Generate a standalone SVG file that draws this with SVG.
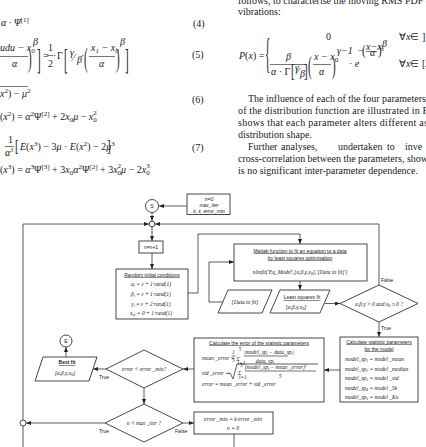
<svg xmlns="http://www.w3.org/2000/svg" width="426" height="447" viewBox="0 0 426 447">
<style>
.t{font-family:"Liberation Serif","Times New Roman",serif;font-size:10px;fill:#1a1a1a}
.i{font-style:italic}
.b{font-family:"Liberation Serif","Times New Roman",serif;fill:#1a1a1a;font-size:11px}
.s{font-family:"Liberation Sans",Arial,sans-serif;font-size:5px;fill:#1a1a1a}
.u{text-decoration:underline}
.m{font-family:"Liberation Serif","Times New Roman",serif;font-style:italic;font-size:5.5px;fill:#1a1a1a}
.c{text-anchor:middle}
.box{fill:#fff;stroke:#333;stroke-width:0.9}
.ln{fill:none;stroke:#333;stroke-width:0.8}
.ar{fill:none;stroke:#333;stroke-width:0.8;marker-end:url(#ah)}
.bar{stroke:#1a1a1a;stroke-width:0.6}
</style>
<defs>
<marker id="ah" markerWidth="5" markerHeight="4" refX="5" refY="2" orient="auto" markerUnits="userSpaceOnUse"><path d="M0,0L5,2L0,4z" fill="#222"/></marker>
</defs>

<g id="equations-left">
<text class="t i" x="1" y="26">α · Ψ<tspan font-size="7" dy="-4" font-style="normal">[1]</tspan></text>
<text class="t" x="193" y="27">(4)</text>

<text class="t i" x="0" y="51">udu − x<tspan font-size="7" dy="2">0</tspan></text>
<line class="bar" x1="0" y1="56.5" x2="28" y2="56.5"/>
<text class="t i" x="12" y="67">α</text>
<text class="b" transform="translate(28,67) scale(1,2.5)">)</text>
<text class="t i" x="33" y="45" font-size="7">β</text>
<text class="b" transform="translate(37,69) scale(1,2.6)">]</text>
<text class="t" x="43" y="59">=</text>
<text class="t" x="48" y="51" font-size="9">1</text>
<line class="bar" x1="47" y1="55.5" x2="53" y2="55.5"/>
<text class="t" x="48" y="67" font-size="9">2</text>
<text class="t" x="53" y="59">·</text>
<text class="t" x="57" y="59">Γ</text>
<text class="b" transform="translate(64,69) scale(1,2.7)">[</text>
<text class="t i" x="70" y="56" font-size="7">γ</text>
<text class="t" x="73" y="61" font-size="10">⁄</text>
<text class="t i" x="77" y="63" font-size="7">β</text>
<text class="t" x="81" y="59">·</text>
<text class="b" transform="translate(84,67) scale(1,2.5)">(</text>
<text class="t i" x="91" y="51">x<tspan font-size="7" dy="2">1</tspan><tspan dy="-2"> − x</tspan><tspan font-size="7" dy="2">0</tspan></text>
<line class="bar" x1="89" y1="56.5" x2="115" y2="56.5"/>
<text class="t i" x="99" y="67">α</text>
<text class="b" transform="translate(116,67) scale(1,2.5)">)</text>
<text class="t i" x="120" y="45" font-size="7">β</text>
<text class="b" transform="translate(125,69) scale(1,2.6)">]</text>
<text class="t" x="192" y="58">(5)</text>

<line class="bar" x1="0" y1="86.5" x2="28" y2="86.5"/>
<text class="t i" x="0" y="97">x<tspan font-size="7" dy="-4" font-style="normal">2</tspan><tspan dy="4" font-style="normal">) − </tspan>μ<tspan font-size="7" dy="-4" font-style="normal">2</tspan></text>
<text class="t" x="192" y="103">(6)</text>
<text class="t" x="0" y="120">(<tspan font-style="italic">x</tspan><tspan font-size="7" dy="-4">2</tspan><tspan dy="4">) = </tspan><tspan font-style="italic">α</tspan><tspan font-size="7" dy="-4">2</tspan><tspan dy="4">Ψ</tspan><tspan font-size="7" dy="-4">[2]</tspan><tspan dy="4"> + 2</tspan><tspan font-style="italic">x</tspan><tspan font-size="7" dy="2">0</tspan><tspan dy="-2" font-style="italic">μ</tspan><tspan> − </tspan><tspan font-style="italic">x</tspan><tspan font-size="7" dy="2">0</tspan><tspan font-size="7" dx="-3.5" dy="-7">2</tspan></text>

<text class="t" x="8" y="143" font-size="9">1</text>
<line class="bar" x1="5" y1="146.5" x2="14" y2="146.5"/>
<text class="t i" x="5" y="156" font-size="9">α<tspan font-size="6" dy="-4" font-style="normal">3</tspan></text>
<text class="b" transform="translate(15,152) scale(1,1.6)">[</text>
<text class="t" x="20" y="150"><tspan font-style="italic">E</tspan>(<tspan font-style="italic">x</tspan><tspan font-size="7" dy="-4">3</tspan><tspan dy="4">) − 3</tspan><tspan font-style="italic">μ</tspan> · <tspan font-style="italic">E</tspan>(<tspan font-style="italic">x</tspan><tspan font-size="7" dy="-4">2</tspan><tspan dy="4">) − 2</tspan><tspan font-style="italic">μ</tspan><tspan font-size="7" dy="-4">3</tspan></text>
<text class="b" transform="translate(107,152) scale(1,1.6)">]</text>
<text class="t" x="192" y="151">(7)</text>
<text class="t" x="0" y="173">(<tspan font-style="italic">x</tspan><tspan font-size="7" dy="-4">3</tspan><tspan dy="4">) = </tspan><tspan font-style="italic">α</tspan><tspan font-size="7" dy="-4">3</tspan><tspan dy="4">Ψ</tspan><tspan font-size="7" dy="-4">[3]</tspan><tspan dy="4"> + 3</tspan><tspan font-style="italic">x</tspan><tspan font-size="7" dy="2">0</tspan><tspan dy="-2" font-style="italic">α</tspan><tspan font-size="7" dy="-4">2</tspan><tspan dy="4">Ψ</tspan><tspan font-size="7" dy="-4">[2]</tspan><tspan dy="4"> + 3</tspan><tspan font-style="italic">x</tspan><tspan font-size="7" dy="2">0</tspan><tspan font-size="7" dx="-3.5" dy="-7">2</tspan><tspan dy="5" font-style="italic">μ</tspan><tspan> − 2</tspan><tspan font-style="italic">x</tspan><tspan font-size="7" dy="2">0</tspan><tspan font-size="7" dx="-3.5" dy="-7">3</tspan></text>
</g>

<g id="text-right">
<text class="t" x="238" y="4">follows, to characterise the moving RMS PDF of</text>
<text class="t" x="238" y="15">vibrations:</text>
<text class="t" x="239" y="59"><tspan font-style="italic">P</tspan>(<tspan font-style="italic">x</tspan>) =</text>
<text class="b" font-size="14" transform="translate(265,67) scale(1,3.9)">{</text>
<text class="t" x="326" y="40">0</text>
<text class="t" x="399" y="40">∀<tspan font-style="italic">x</tspan>∈ ]−</text>
<text class="t i" x="286" y="60">β</text>
<line class="bar" x1="270" y1="64.5" x2="306" y2="64.5"/>
<text class="t" x="271" y="75"><tspan font-style="italic">α</tspan> · Γ</text>
<text class="b" transform="translate(291,77) scale(1,1.7)">[</text>
<text class="t i" x="295" y="71" font-size="6">γ</text>
<text class="t" x="297" y="75" font-size="8">⁄</text>
<text class="t i" x="300" y="77" font-size="6">β</text>
<text class="b" transform="translate(304,77) scale(1,1.7)">]</text>
<text class="b" transform="translate(308,74) scale(1,2.3)">(</text>
<text class="t i" x="314" y="60">x − x<tspan font-size="7" dy="2" font-style="normal">0</tspan></text>
<line class="bar" x1="313" y1="64.5" x2="331" y2="64.5"/>
<text class="t i" x="319" y="75">α</text>
<text class="b" transform="translate(332,74) scale(1,2.3)">)</text>
<text class="t i" x="337" y="54" font-size="7">γ−1</text>
<text class="t" x="349" y="67">· <tspan font-style="italic">e</tspan></text>
<text class="t" x="358" y="54" font-size="6">−</text>
<text class="b" transform="translate(362,55) scale(1,1.3)" font-size="8">(</text>
<text class="t i" x="366" y="50" font-size="5">x−x<tspan font-size="4" dy="1" font-style="normal">0</tspan></text>
<line class="bar" x1="366" y1="51.5" x2="377" y2="51.5" stroke-width="0.4"/>
<text class="t i" x="370" y="56" font-size="5">α</text>
<text class="b" transform="translate(378,55) scale(1,1.3)" font-size="8">)</text>
<text class="t i" x="382" y="47" font-size="5">β</text>
<text class="t" x="399" y="67">∀<tspan font-style="italic">x</tspan>∈ [<tspan font-style="italic">x</tspan></text>

<text class="t" x="248" y="102" font-size="10.3">The influence of each of the four parameters</text>
<text class="t" x="238" y="114" textLength="190" lengthAdjust="spacing">of the distribution function are illustrated in F</text>
<text class="t" x="238" y="126" textLength="190" lengthAdjust="spacing">shows that each parameter alters different as</text>
<text class="t" x="238" y="138">distribution shape.</text>
<text class="t" y="150"><tspan x="248">Further</tspan><tspan x="281">analyses,</tspan><tspan x="338">undertaken</tspan><tspan x="387">to</tspan><tspan x="405">inve</tspan></text>
<text class="t" x="238" y="162" textLength="190" lengthAdjust="spacing">cross-correlation between the parameters, show</text>
<text class="t" x="238" y="174">is no significant inter-parameter dependence.</text>
</g>

<g id="connectors">
<line class="ar" x1="187" y1="206" x2="159" y2="206"/>
<line class="ar" x1="152" y1="212.5" x2="152" y2="221"/>
<path class="ar" d="M23,420V224H149"/>
<path class="ar" d="M379,285V224H155"/>
<line class="ar" x1="152" y1="227" x2="152" y2="241"/>
<line class="ar" x1="152" y1="253" x2="152" y2="269"/>
<path class="ar" d="M188,293H198V234H300V244"/>
<path class="ar" d="M223,302H209V262H234"/>
<line class="ar" x1="300" y1="281" x2="300" y2="290"/>
<line class="ar" x1="325" y1="303.5" x2="340" y2="303.5"/>
<line class="ar" x1="379" y1="322" x2="379" y2="337"/>
<line class="ar" x1="340" y1="370" x2="324" y2="370"/>
<line class="ar" x1="194" y1="369" x2="183" y2="369"/>
<line class="ar" x1="106" y1="369" x2="93" y2="369"/>
<line class="ar" x1="66" y1="357" x2="66" y2="347"/>
<line class="ar" x1="144" y1="388" x2="144" y2="404"/>
<line class="ar" x1="105" y1="423" x2="26" y2="423"/>
<line class="ar" x1="183" y1="423" x2="194" y2="423"/>
<line class="ln" x1="234" y1="434" x2="234" y2="447"/>
<line class="ln" x1="23" y1="426" x2="23" y2="447"/>
<text class="s" x="381" y="282">False</text>
<text class="s" x="381" y="330">True</text>
<text class="s" x="99" y="379">True</text>
<text class="s" x="99" y="433">True</text>
<text class="s" x="175" y="433">False</text>
</g>

<g id="start">
<circle class="box" cx="152" cy="206" r="6.5"/>
<text class="s c" x="152" y="208.2" font-size="6">S</text>
</g>
<g id="init">
<rect class="box" x="187" y="194" width="43" height="20.5"/>
<text class="s c i" x="209" y="200.5">n=0</text>
<text class="s c i" x="209" y="207">max_iter</text>
<text class="s c i" x="209" y="213">k, ε, error_min</text>
</g>
<g id="junction-top"><circle class="box" cx="152" cy="224" r="2.8"/></g>
<g id="increment">
<rect class="box" x="139" y="241" width="24" height="12"/>
<text class="s c" x="151" y="248.8">n=n+1</text>
</g>
<g id="random">
<rect class="box" x="116" y="269" width="72" height="50"/>
<text class="s c u" x="152" y="276.5">Random initial conditions</text>
<text class="m c" x="151" y="286">α<tspan font-size="4" dy="1">i</tspan><tspan dy="-1"> = ε + 1·rand(1)</tspan></text>
<text class="m c" x="151" y="296">β<tspan font-size="4" dy="1">i</tspan><tspan dy="-1"> = ε + 1·rand(1)</tspan></text>
<text class="m c" x="151" y="305.5">γ<tspan font-size="4" dy="1">i</tspan><tspan dy="-1"> = ε + 2·rand(1)</tspan></text>
<text class="m c" x="151" y="315">x<tspan font-size="4" dy="1">oi</tspan><tspan dy="-1"> = 0 + 1·rand(1)</tspan></text>
</g>
<g id="matlab">
<rect class="box" x="234" y="244" width="133" height="37"/>
<text class="s c u" x="300" y="252.5">Matlab function to fit an equation to a data</text>
<text class="s c u" x="300" y="259.5">by least squares optimisation</text>
<text class="m c" x="300" y="273.5">nlinfit('Eq_Model',[α,β,γ,x<tspan font-size="4" dy="1">0</tspan><tspan dy="-1">],'[Data to fit]')</tspan></text>
</g>
<g id="data">
<polygon class="box" points="228,290 272,290 262,313 218,313"/>
<text class="m c" x="245" y="304">[Data to fit]</text>
</g>
<g id="lsfit">
<polygon class="box" points="280,290 330,290 320,313 270,313"/>
<text class="s c u" x="302" y="299">Least squares fit</text>
<text class="m c" x="296" y="309">[α,β,γ,x<tspan font-size="4" dy="1">0</tspan><tspan dy="-1">]</tspan></text>
</g>
<g id="valid">
<polygon class="box" points="340,303.5 379,285 418,303.5 379,322"/>
<text class="m c" x="379" y="305.5">α,β,γ &gt; 0 and x<tspan font-size="4" dy="1">0</tspan><tspan dy="-1"> ≥ 0 ?</tspan></text>
</g>
<g id="stats">
<rect class="box" x="340" y="337" width="78" height="65"/>
<text class="s c u" x="379" y="343.5">Calculate statistic parameters</text>
<text class="s c u" x="379" y="350.5">for the model</text>
<text class="m" x="345" y="361">model_sp<tspan font-size="4" dy="1">1</tspan><tspan dy="-1"> = model _mean</tspan></text>
<text class="m" x="345" y="370.5">model_sp<tspan font-size="4" dy="1">2</tspan><tspan dy="-1"> = model _median</tspan></text>
<text class="m" x="345" y="380">model_sp<tspan font-size="4" dy="1">3</tspan><tspan dy="-1"> = model _std</tspan></text>
<text class="m" x="345" y="389.5">model_sp<tspan font-size="4" dy="1">4</tspan><tspan dy="-1"> = model _Sk</tspan></text>
<text class="m" x="345" y="399">model_sp<tspan font-size="4" dy="1">5</tspan><tspan dy="-1"> = model _Ku</tspan></text>
</g>
<g id="errors">
<rect class="box" x="194" y="338" width="130" height="64"/>
<text class="s c u" x="259" y="344.5">Calculate the error of the statistic parameters</text>
<text class="m" x="202" y="359.5">mean _error =</text>
<text class="m" x="232" y="353.5" font-size="5">1</text>
<line class="bar" x1="231.5" y1="356" x2="235.5" y2="356" stroke-width="0.4"/>
<text class="m" x="232" y="362" font-size="5">5</text>
<text class="m" x="236.5" y="361" font-size="8" font-style="normal">Σ</text>
<text class="m" x="238.5" y="351" font-size="3.5">5</text>
<text class="m" x="237.5" y="365" font-size="3.5">i=1</text>
<text class="m" x="244" y="353.5">|model_sp<tspan font-size="4" dy="1">i</tspan><tspan dy="-1"> − data_sp</tspan><tspan font-size="4" dy="1">i</tspan><tspan dy="-1">|</tspan></text>
<line class="bar" x1="244" y1="356" x2="288" y2="356" stroke-width="0.4"/>
<text class="m c" x="265" y="363">data_sp<tspan font-size="4" dy="1">i</tspan></text>
<text class="m" x="202" y="375">std _error =</text>
<path class="ln" d="M228,374l2,-1l3,6l4,-15h81" stroke-width="0.5"/>
<text class="m" x="238" y="375" font-size="8" font-style="normal">Σ</text>
<text class="m" x="240" y="366.5" font-size="3.5">5</text>
<text class="m" x="239" y="379" font-size="3.5">i=1</text>
<text class="m" x="245" y="369">(model_sp<tspan font-size="4" dy="1">i</tspan><tspan dy="-1"> − mean _error)</tspan><tspan font-size="4" dy="-2">2</tspan></text>
<line class="bar" x1="245" y1="371" x2="316" y2="371" stroke-width="0.4"/>
<text class="m c" x="280" y="378">5</text>
<text class="m" x="202" y="385.5">error = mean _error + std _error</text>
</g>
<g id="check-error">
<polygon class="box" points="106,369 144,350 183,369 144,388"/>
<text class="m c" x="144" y="371">error &lt; error _min?</text>
</g>
<g id="bestfit">
<polygon class="box" points="43,357 97,357 89,381 35,381"/>
<text class="s c u" x="67" y="364" font-weight="bold">Best fit</text>
<text class="m c" x="65" y="375" font-size="6">[α,β,γ,x<tspan font-size="4" dy="1">0</tspan><tspan dy="-1">]</tspan></text>
</g>
<g id="end">
<circle class="box" cx="66" cy="341" r="6"/>
<text class="s c" x="66" y="343" font-size="6">E</text>
</g>
<g id="check-iter">
<polygon class="box" points="105,423 144,404 183,423 144,442"/>
<text class="m c" x="144" y="425">n &lt; max _iter ?</text>
</g>
<g id="junction-bottom"><circle class="box" cx="23" cy="423" r="3"/></g>
<g id="update">
<rect class="box" x="194" y="412" width="79" height="22"/>
<text class="m c" x="233" y="420.5">error _min = k·error _min</text>
<text class="m c" x="233" y="429.5">n = 0</text>
</g>
</svg>
